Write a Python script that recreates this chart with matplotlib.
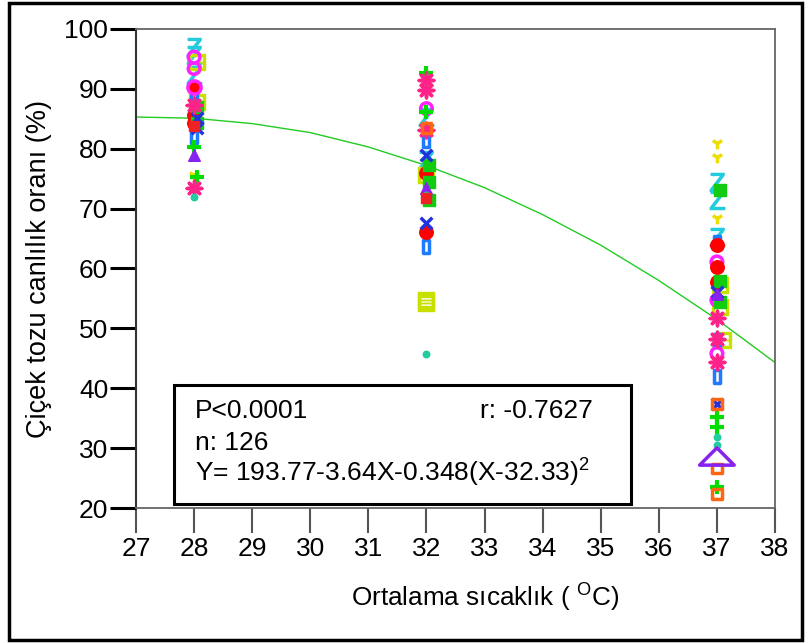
import matplotlib
matplotlib.use("Agg")
import matplotlib.pyplot as plt
from matplotlib.patches import Rectangle
from matplotlib.path import Path

plt.rcParams['font.family'] = ['Liberation Sans', 'DejaVu Sans']
plt.rcParams['mathtext.fontset'] = 'custom'
plt.rcParams['mathtext.rm'] = 'Liberation Sans'
plt.rcParams['mathtext.it'] = 'Liberation Sans'

# ---- data ----
x_ticks = [27, 28, 29, 30, 31, 32, 33, 34, 35, 36, 37, 38]
y_ticks = [20, 30, 40, 50, 60, 70, 80, 90, 100]

fit_x = [27, 28, 29, 30, 31, 32, 33, 34, 35, 36, 37, 38]
fit_y = [85.3, 85.1, 84.2, 82.7, 80.3, 77.2, 73.5, 69.0, 63.9, 58.0, 51.5, 44.3]

cyan_z_x = [28, 28, 28, 32, 32, 37, 37, 37]
cyan_z_y = [97.0, 95.6, 92.3, 78.1, 85.3, 74.5, 71.4, 65.3]

yellow_y_x = [28, 37, 37, 37]
yellow_y_y = [75.6, 80.9, 78.6, 68.4]

lime_sq_x = [28.05, 28.05, 32, 32, 32, 37.05, 37.05, 37.1]
lime_sq_y = [94.5, 87.8, 75.6, 54.7, 54.2, 57.2, 53.6, 48.0]

blue_rect_x = [28, 28, 32, 32, 37, 37, 37]
blue_rect_y = [89.0, 82.0, 81.4, 63.7, 64.4, 48.0, 41.9]

mag_open_x = [28, 28, 32, 37, 37, 37]
mag_open_y = [95.3, 93.4, 86.7, 61.1, 54.7, 45.8]

mag_red_x = [28]
mag_red_y = [90.3]

red_circ_x = [28, 28, 32, 32, 37, 37, 37]
red_circ_y = [85.6, 84.3, 76.0, 66.1, 63.9, 60.2, 57.8]

green_sq_x = [28.05, 28.05, 32.05, 32.05, 32.05, 37.05, 37.05, 37.05]
green_sq_y = [87.0, 84.3, 77.3, 74.5, 71.4, 73.1, 57.9, 54.4]

green_plus_x = [28, 28.05, 32, 32, 37, 37, 37]
green_plus_y = [80.3, 75.3, 92.6, 86.2, 35.2, 33.5, 23.5]

blue_x_x = [28.05, 28.05, 32, 32, 37, 37]
blue_x_y = [85.1, 83.4, 78.9, 67.6, 56.1, 37.4]

pink_ast_x = [28, 28, 32, 32, 32, 37, 37, 37]
pink_ast_y = [87.3, 73.4, 91.5, 89.8, 83.1, 51.7, 48.3, 44.4]

purple_tri_x = [28, 32, 37]
purple_tri_y = [78.9, 73.4, 55.8]

teal_dot_x = [28, 32, 32, 37, 37]
teal_dot_y = [72.0, 72.3, 45.8, 31.9, 30.5]

red_sq_x = [28, 32]
red_sq_y = [83.8, 71.7]

orange_sq_x = [32, 37, 37, 37]
orange_sq_y = [83.4, 37.4, 26.6, 22.4]

big_tri_x = [37]
big_tri_y = [28.6]

# ---- figure ----
fig = plt.figure(figsize=(8.1, 6.43), dpi=100)
ax = fig.add_axes([136 / 810, 1 - 508 / 643, 639 / 810, 479 / 643])

ax.plot(fit_x, fit_y, color='#22CC22', lw=1.0, zorder=2)

tall_rect = Path([(-0.45, -1), (0.45, -1), (0.45, 1), (-0.45, 1), (-0.45, -1)],
                 [Path.MOVETO, Path.LINETO, Path.LINETO, Path.LINETO, Path.CLOSEPOLY])
wide_tri = Path([(-1, -0.5), (1, -0.5), (0, 0.5), (-1, -0.5)],
                [Path.MOVETO, Path.LINETO, Path.LINETO, Path.CLOSEPOLY])

ax.scatter(cyan_z_x, cyan_z_y, marker='$Z$', s=170, color='#22CCDD', zorder=3)
ax.scatter(yellow_y_x, yellow_y_y, marker='1', s=70, color='#EEDD00', linewidths=2.5, zorder=3)
ax.scatter(lime_sq_x, lime_sq_y, marker='$\u229F$', s=120, color='#C8E000', zorder=3)
ax.scatter(blue_rect_x, blue_rect_y, marker=tall_rect, s=90, facecolors='none',
           edgecolors='#1E7BFF', linewidths=2.5, zorder=3)
ax.scatter(mag_open_x, mag_open_y, marker='o', s=70, facecolors='none',
           edgecolors='#FF22FF', linewidths=2.5, zorder=3)
ax.scatter(mag_red_x, mag_red_y, marker='o', s=90, facecolors='#FF0000',
           edgecolors='#FF22FF', linewidths=2.5, zorder=3)
ax.scatter(red_circ_x, red_circ_y, marker='o', s=95, color='#FF0000', zorder=3)
ax.scatter(green_sq_x, green_sq_y, marker='s', s=85, color='#11CC11', zorder=3)
ax.scatter(green_plus_x, green_plus_y, marker='+', s=100, color='#00DD00', linewidths=3, zorder=3)
ax.scatter(blue_x_x, blue_x_y, marker='x', s=70, color='#2233DD', linewidths=2.5, zorder=3)
ax.scatter(pink_ast_x, pink_ast_y, marker=(8, 2, 0), s=110, color='#FF2288', linewidths=2.5, zorder=3)
ax.scatter(purple_tri_x, purple_tri_y, marker='^', s=70, color='#8822EE', zorder=3)
ax.scatter(teal_dot_x, teal_dot_y, marker='o', s=22, facecolors='#22CCA0',
           edgecolors='#22CCA0', zorder=3)
ax.scatter(red_sq_x, red_sq_y, marker='s', s=60, color='#EE2222', zorder=3)
ax.scatter(orange_sq_x, orange_sq_y, marker='s', s=50, facecolors='none',
           edgecolors='#FF6611', linewidths=2.5, zorder=3)
ax.scatter(big_tri_x, big_tri_y, marker=wide_tri, s=620, facecolors='none',
           edgecolors='#8822EE', linewidths=2.5, zorder=3)

ax.set_xlim(27, 38)
ax.set_ylim(20, 100)
ax.set_xticks(x_ticks)
ax.set_yticks(y_ticks)
ax.tick_params(axis='both', direction='out', labelsize=19, colors='black')
ax.tick_params(axis='y', length=19, width=2.2, pad=1)
ax.tick_params(axis='x', length=18, width=1.5, color='#555555', pad=3)
for side in ['top', 'right', 'bottom']:
    ax.spines[side].set_color('#666666')
    ax.spines[side].set_linewidth(1.3)
ax.spines['left'].set_color('#333333')
ax.spines['left'].set_linewidth(1.5)

ax.set_xlabel('Ortalama sıcaklık ( $^{\\mathrm{O}}$C)', fontsize=18.8, labelpad=11)
ax.xaxis.set_label_coords((485 - 136) / 639, -0.155)
ax.set_ylabel('Çiçek tozu canlılık oranı (%)', fontsize=19.5, labelpad=9)

# annotation box
box = Rectangle((27.654, 20.62), 35.52 - 27.654, 40.5 - 20.62, fill=False,
                edgecolor='black', linewidth=2.2, zorder=4)
ax.add_patch(box)
ax.text(28.02, 36.2, 'P<0.0001', fontsize=19, va='center', ha='left', zorder=5)
ax.text(34.87, 36.2, 'r: -0.7627', fontsize=19, va='center', ha='right', zorder=5)
ax.text(28.02, 30.85, 'n: 126', fontsize=19, va='center', ha='left', zorder=5)
ax.text(28.02, 25.8, 'Y= 193.77-3.64X-0.348(X-32.33)$^{2}$', fontsize=19,
        va='center', ha='left', zorder=5)

# outer frame
fig.patches.append(Rectangle((9 / 810, 3 / 643), 793 / 810, 637 / 643, fill=False,
                             edgecolor='black', linewidth=2.5, transform=fig.transFigure))

fig.savefig('out.png', dpi=100)
